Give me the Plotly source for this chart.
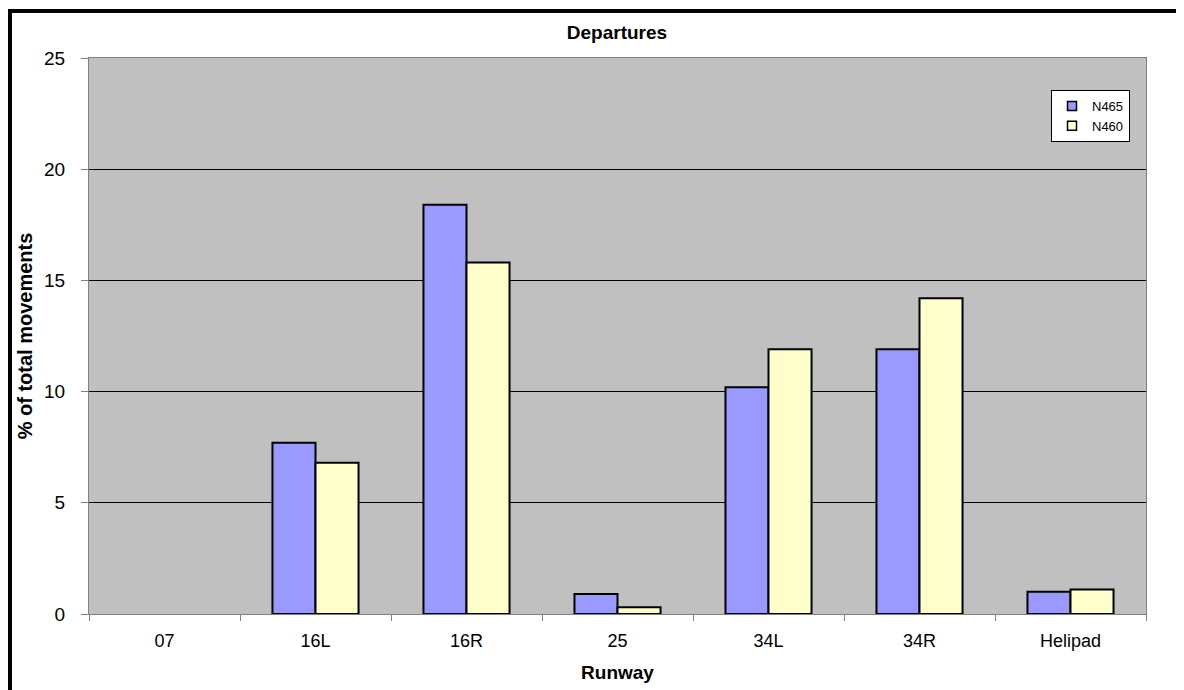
import plotly.graph_objects as go

categories = ["07", "16L", "16R", "25", "34L", "34R", "Helipad"]
n465 = [0, 7.7, 18.4, 0.9, 10.2, 11.9, 1.0]
n460 = [0, 6.8, 15.8, 0.3, 11.9, 14.2, 1.1]
series_names = ["N465", "N460"]
series_colors = ["#9999FF", "#FFFFCC"]
y_ticks = [0, 5, 10, 15, 20, 25]

W, H = 1184, 690
OFF = 8  # default page body margin
L, R, T, B = 89, 1146, 58, 614  # plot area in page pixels

def px_x(px):
    return (px - L) / (R - L)

def px_y(py):
    return (B - py) / (B - T)

FONT = "Liberation Sans, Arial, sans-serif"

def outline_widths(vals):
    return [0 if v == 0 else 2 for v in vals]

fig = go.Figure()
for name, vals, col in zip(series_names, [n465, n460], series_colors):
    fig.add_trace(go.Bar(x=categories, y=vals, name=name, showlegend=False,
                         legendgroup=name,
                         marker=dict(color=col,
                                     line=dict(color="black", width=outline_widths(vals)))))
# legend entries (square swatches with black outline)
for name, col in zip(series_names, series_colors):
    fig.add_trace(go.Scatter(x=[None], y=[None], name=name, legendgroup=name,
                             mode="markers", showlegend=True,
                             marker=dict(symbol="square", size=9, color=col,
                                         line=dict(color="black", width=1.5))))

fig.update_layout(
    width=W, height=H,
    margin=dict(l=L - OFF, r=W - (R - OFF), t=T - OFF, b=H - (B - OFF), pad=0),
    paper_bgcolor="white",
    plot_bgcolor="#C0C0C0",
    barmode="group",
    bargap=0.43,
    bargroupgap=0,
    font=dict(family=FONT, size=18, color="black"),
    title=dict(text="<b>Departures</b>", xref="container", yref="container",
               x=(617 - OFF) / W, xanchor="center",
               y=1 - (32 - OFF) / H, yanchor="middle",
               font=dict(size=19, family=FONT)),
    legend=dict(x=px_x(1051), y=px_y(90), xanchor="left", yanchor="top",
                bgcolor="white", bordercolor="black", borderwidth=1,
                font=dict(size=13, family=FONT), traceorder="normal",
                itemwidth=30, tracegroupgap=2),
    showlegend=True,
)

fig.update_xaxes(
    type="category",
    showline=True, linecolor="#808080", linewidth=1, mirror=True,
    ticks="outside", tickson="boundaries", ticklen=6, tickcolor="#808080",
    ticklabelstandoff=10,
    showgrid=False,
    tickfont=dict(size=18, family=FONT),
    title=dict(text="<b>Runway</b>", font=dict(size=19, family=FONT), standoff=16),
)
fig.update_yaxes(
    range=[0, 25],
    tickvals=y_ticks,
    showline=True, linecolor="#808080", linewidth=1, mirror=True,
    ticks="outside", ticklen=7, tickcolor="#808080",
    ticklabelstandoff=12,
    showgrid=True, gridcolor="black", gridwidth=1,
    zeroline=False,
    tickfont=dict(size=19, family=FONT),
    title=dict(text="<b>% of total movements</b>", font=dict(size=20, family=FONT), standoff=6),
)

# outer chart frame (thick black border, partially cropped)
fig.add_shape(type="rect", xref="paper", yref="paper",
              x0=px_x(OFF + 2), x1=px_x(1210), y0=px_y(720), y1=px_y(11),
              line=dict(color="black", width=4), fillcolor="rgba(0,0,0,0)",
              layer="above")

fig.write_html("out.html")
